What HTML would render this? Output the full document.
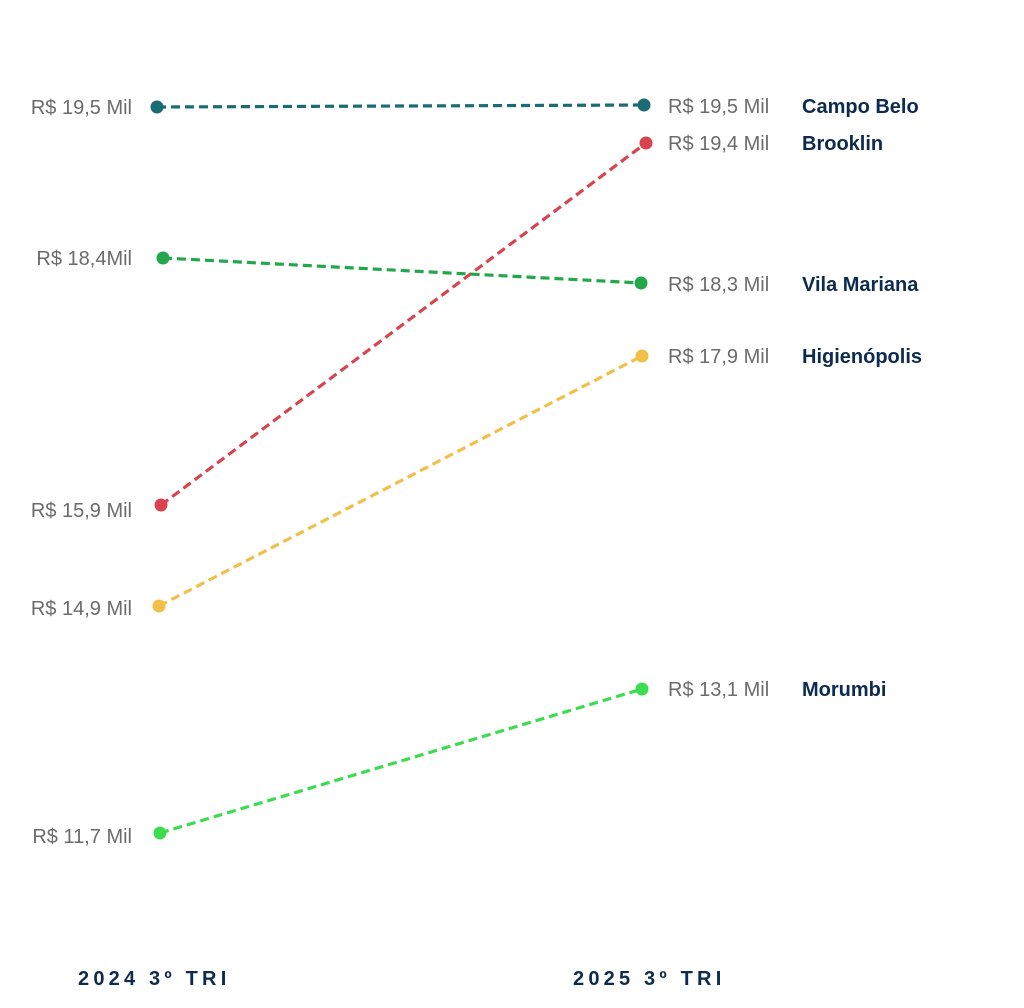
<!DOCTYPE html>
<html><head><meta charset="utf-8"><style>
body{margin:0;background:#fff;}
svg{display:block}
.v{font-family:"Liberation Sans",sans-serif;font-size:20px;fill:#6b6b6b;}
.n{font-family:"Liberation Sans",sans-serif;font-size:20px;font-weight:bold;fill:#0d2a4f;}
.a{font-family:"Liberation Sans",sans-serif;font-size:20px;font-weight:bold;fill:#0d2a4f;letter-spacing:4.2px;}
line{stroke-width:3.2;stroke-dasharray:9 5;}
</style></head><body>
<svg width="1024" height="1008" viewBox="0 0 1024 1008">
<line x1="157" y1="107" x2="644" y2="105" stroke="#1a6b73"/>
<line x1="161" y1="505" x2="646" y2="143" stroke="#d9434f"/>
<line x1="163" y1="258" x2="641" y2="283" stroke="#22a84a"/>
<line x1="159" y1="606" x2="642" y2="356" stroke="#f0c04a"/>
<line x1="160" y1="833" x2="642" y2="689" stroke="#3ddc50"/>
<g>
<circle cx="157" cy="107" r="6.5" fill="#1a6b73"/><circle cx="644" cy="105" r="6.5" fill="#1a6b73"/>
<circle cx="161" cy="505" r="6.5" fill="#d9434f"/><circle cx="646" cy="143" r="6.5" fill="#d9434f"/>
<circle cx="163" cy="258" r="6.5" fill="#22a84a"/><circle cx="641" cy="283" r="6.5" fill="#22a84a"/>
<circle cx="159" cy="606" r="6.5" fill="#f0c04a"/><circle cx="642" cy="356" r="6.5" fill="#f0c04a"/>
<circle cx="160" cy="833" r="6.5" fill="#3ddc50"/><circle cx="642" cy="689" r="6.5" fill="#3ddc50"/>
</g>
<g class="v" text-anchor="end">
<text x="132" y="114">R$ 19,5 Mil</text>
<text x="132" y="265">R$ 18,4Mil</text>
<text x="132" y="517">R$ 15,9 Mil</text>
<text x="132" y="615">R$ 14,9 Mil</text>
<text x="132" y="843">R$ 11,7 Mil</text>
</g>
<g class="v">
<text x="668" y="113">R$ 19,5 Mil</text>
<text x="668" y="150">R$ 19,4 Mil</text>
<text x="668" y="291">R$ 18,3 Mil</text>
<text x="668" y="363">R$ 17,9 Mil</text>
<text x="668" y="696">R$ 13,1 Mil</text>
</g>
<g class="n">
<text x="802" y="113">Campo Belo</text>
<text x="802" y="150">Brooklin</text>
<text x="802" y="291">Vila Mariana</text>
<text x="802" y="363">Higienópolis</text>
<text x="802" y="696">Morumbi</text>
</g>
<text class="a" x="78" y="985">2024 3º TRI</text>
<text class="a" x="573" y="985">2025 3º TRI</text>
</svg>
</body></html>
